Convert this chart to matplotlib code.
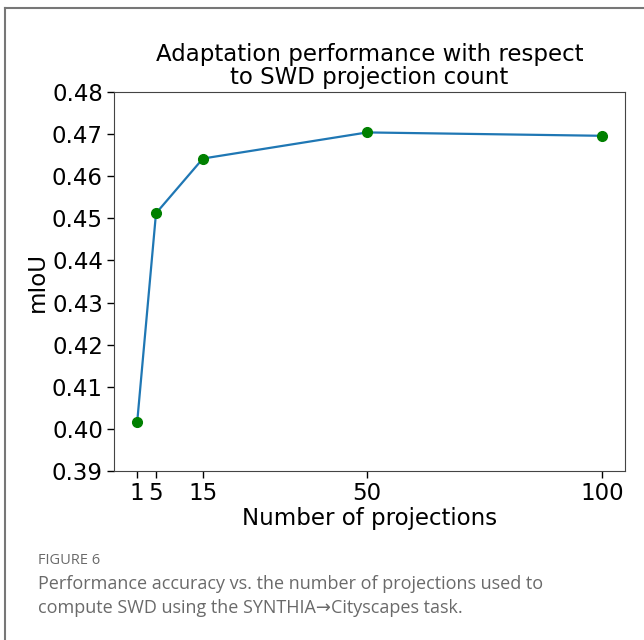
import numpy as np
import matplotlib.pyplot as plt
from matplotlib.lines import Line2D

# projection counts and mIoU
projections = [1, 5, 15, 50, 100]
miou = [0.4017, 0.4512, 0.4642, 0.4704, 0.4696]
tick_labels = ['1', '5', '15', '50', '100']

fig = plt.figure(figsize=(6.44, 6.40), dpi=100)

# page frame (left and top edges visible)
fig.add_artist(Line2D([4.5/644, 4.5/644], [0, 1 - 8/640], transform=fig.transFigure,
                      color='#777777', lw=1.5))
fig.add_artist(Line2D([4.5/644, 1], [1 - 8/640, 1 - 8/640], transform=fig.transFigure,
                      color='#777777', lw=1.5))

ax = fig.add_axes([114/644, 1 - 471/640, (625 - 114)/644, (471 - 92)/640])
ax.plot(projections, miou, color='#1f77b4', lw=1.6)
ax.plot(projections, miou, 'o', color='green', markersize=7)

ax.set_ylim(0.39, 0.48)
ax.set_yticks(np.arange(0.39, 0.4801, 0.01))
ax.set_yticklabels([f'{v:.2f}' for v in np.arange(0.39, 0.4801, 0.01)])
ax.set_xticks(projections)
ax.set_xticklabels(tick_labels)
ax.tick_params(labelsize=16.5, width=1, length=5, pad=3)
for s in ax.spines.values():
    s.set_color('#444444')

ax.set_xlabel('Number of projections', fontsize=16.5, labelpad=1)
ax.set_ylabel('mIoU', fontsize=16.5, labelpad=2)
ax.set_title('Adaptation performance with respect\nto SWD projection count',
             fontsize=16.5, linespacing=1.0, pad=6)

cap = ['Open Sans', 'DejaVu Sans']
fig.text(38/644, 1 - 561/640, 'FIGURE 6', fontsize=10.5, color='#6a6a6a',
         family=cap, va='center')
fig.text(38/644, 1 - 584/640, 'Performance accuracy vs. the number of projections used to',
         fontsize=13, color='#6a6a6a', family=cap, va='center')
fig.text(38/644, 1 - 608/640, 'compute SWD using the SYNTHIA\u2192Cityscapes task.',
         fontsize=13, color='#6a6a6a', family=cap, va='center')

plt.savefig('out.png', dpi=100)
